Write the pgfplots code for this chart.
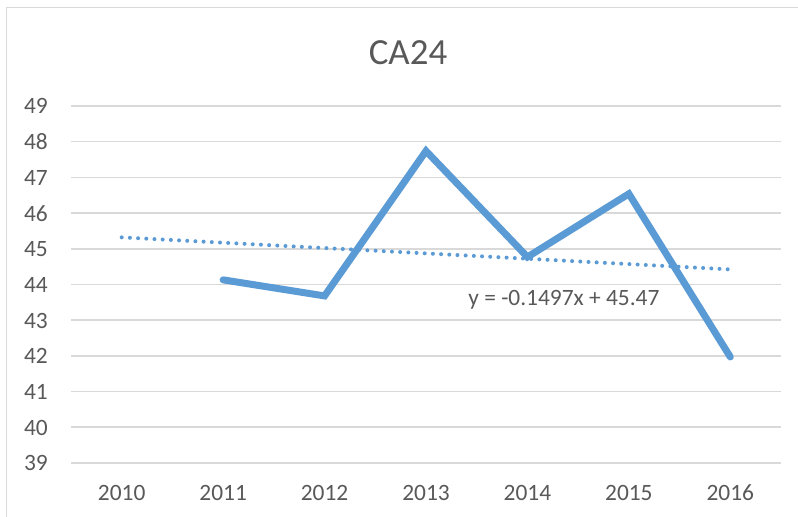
\documentclass[border=0pt]{standalone}
\usepackage{pgfplots}
\pgfplotsset{compat=1.18}
\usepackage{fontspec}
\setmainfont{Carlito}
\definecolor{lineblue}{HTML}{5B9BD5}
\definecolor{gridgray}{HTML}{D9D9D9}
\definecolor{textgray}{HTML}{595959}
\begin{document}
\begin{tikzpicture}[x=1bp,y=1bp]
\useasboundingbox (0,0) rectangle (798,517);
\fill[white] (0,0) rectangle (798,517);
\draw[gridgray, line width=1.6bp] (6.5,-20) -- (6.5,509.5) -- (830,509.5);
\node[anchor=base, text=textgray, inner sep=0pt, font=\fontsize{37}{44}\selectfont] at (408,452.7) {CA24};
\begin{axis}[
  at={(71bp,54bp)}, anchor=south west,
  width=710bp, height=357bp, scale only axis,
  xmin=2009.5, xmax=2016.5,
  ymin=39, ymax=49,
  xtick={2010,2011,2012,2013,2014,2015,2016},
  ytick={39,40,41,42,43,44,45,46,47,48,49},
  xticklabels={2010,2011,2012,2013,2014,2015,2016},
  axis line style={draw=none},
  major tick length=0pt,
  ymajorgrids=true,
  grid style={gridgray, line width=1.6bp},
  /pgf/number format/assume math mode=true,
  /pgf/number format/1000 sep={},
  tick label style={text=textgray, font=\fontsize{23.5}{28}\selectfont, inner sep=0pt},
  xticklabel style={anchor=base, yshift=-38bp},
  yticklabel style={anchor=base east, xshift=-23bp, yshift=-8bp},
  clip=false,
]
\addplot[lineblue, line width=7bp, line cap=round, line join=miter, mark=none] coordinates {
  (2011,44.13) (2012,43.68) (2013,47.74) (2014,44.77) (2015,46.54) (2016,41.97)
};
\addplot[lineblue, line width=4bp, line cap=round, dash pattern=on 0bp off 8.2bp, mark=none] coordinates {
  (2010,45.3203) (2016,44.4221)
};
\node[anchor=base, text=textgray, inner sep=0pt, font=\fontsize{23.5}{28}\selectfont] at (axis cs:2014.36,43.40) {y = -0.1497x + 45.47};
\end{axis}
\end{tikzpicture}
\end{document}
